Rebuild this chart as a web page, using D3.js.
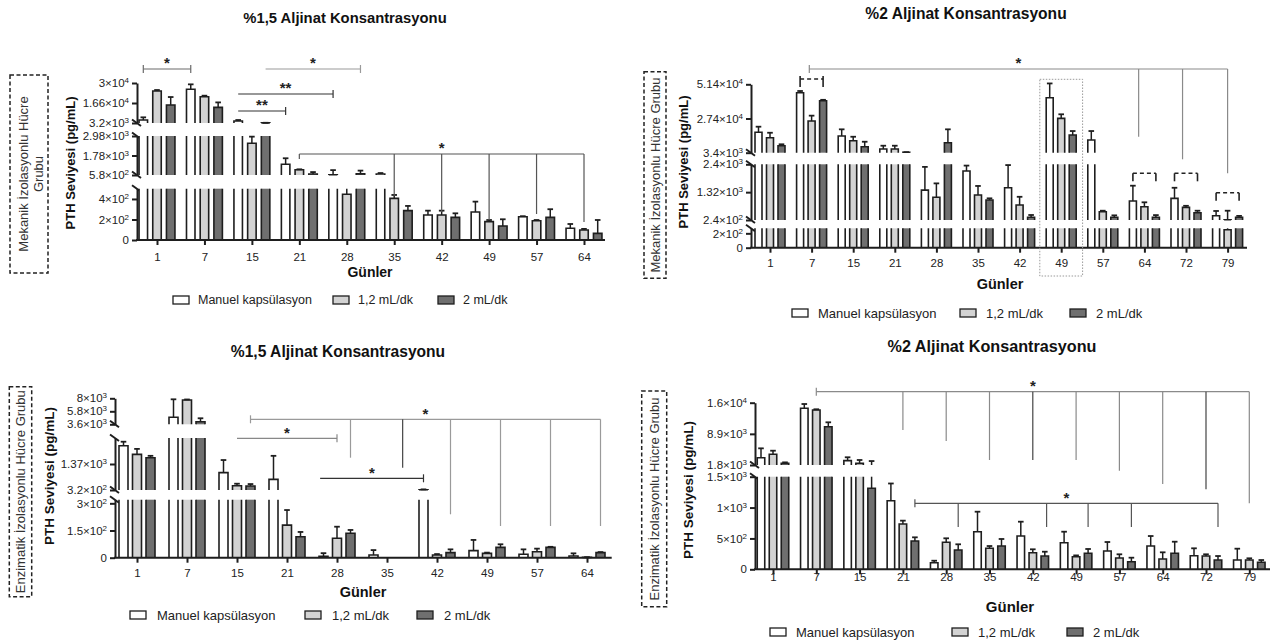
<!DOCTYPE html>
<html>
<head>
<meta charset="utf-8">
<script src="https://cdn.jsdelivr.net/npm/d3@7"></script>
<style>
  body { margin: 0; background: #fff; }
</style>
</head>
<body>
<svg id="chart" width="1278" height="642"></svg>
<script>
// günler
const days1 = [1, 7, 15, 21, 28, 35, 42, 49, 57, 64];
const days2 = [1, 7, 15, 21, 28, 35, 42, 49, 57, 64, 72, 79];
const seriesNames = ['Manuel kapsülasyon', '1,2 mL/dk', '2 mL/dk'];

// Mekanik, %1,5
const mek15Manuel = [5200, 25800, 4540, 1240, 600, 640, 244, 273, 227, 114];
const mek15ManuelErr = [7000, 29100, 5200, 1610, 880, 700, 286, 374, 232, 156];
const mek15Hiz12 = [24600, 20800, 2530, 900, 446, 406, 244, 179, 188, 98];
const mek15Hiz12Err = [25300, 21500, 2940, 930, 504, 439, 286, 195, 195, 108];
const mek15Hiz2 = [15300, 13700, 3300, 640, 650, 286, 221, 137, 221, 65];
const mek15Hiz2Err = [20600, 17000, 3350, 760, 850, 332, 260, 202, 300, 195];

// Mekanik, %2
const mek2Manuel = [17700, 45500, 15100, 6000, 1400, 2140, 1490, 42000, 12300, 977, 1080, 407];
const mek2ManuelErr = [21650, 46700, 19800, 8300, 2300, 2350, 2370, 52000, 18600, 1570, 1490, 590];
const mek2Hiz12 = [13900, 25650, 11800, 6000, 1120, 1210, 820, 27500, 562, 756, 730, 250];
const mek2Hiz12Err = [17400, 29400, 14600, 8300, 1660, 1560, 1140, 30350, 600, 926, 790, 600];
const mek2Hiz2 = [8300, 39900, 7600, 3700, 10400, 1015, 345, 15800, 345, 345, 524, 345];
const mek2Hiz2Err = [9300, 40500, 11100, 3800, 19800, 1080, 434, 18600, 420, 430, 600, 400];

// Enzimatik, %1,5
const enz15Manuel = [2110, 4790, 1020, 750, 8, 15, 330, 39, 19, 9];
const enz15ManuelErr = [2270, 7830, 1530, 1700, 25, 42, 345, 98, 46, 24];
const enz15Hiz12 = [1760, 7710, 493, 180, 107, 0, 15, 24, 33, 2];
const enz15Hiz12Err = [1980, 7800, 574, 263, 171, 0, 20, 28, 50, 3];
const enz15Hiz2 = [1620, 4040, 480, 116, 135, 0, 28, 57, 57, 28];
const enz15Hiz2Err = [1700, 4620, 560, 142, 153, 0, 46, 74, 60, 31];

// Enzimatik, %2
const enz2Manuel = [3460, 14720, 2800, 1110, 107, 609, 539, 431, 296, 377, 220, 150];
const enz2ManuelErr = [5600, 15700, 3560, 1390, 139, 933, 771, 609, 442, 539, 340, 334];
const enz2Hiz12 = [4235, 14340, 2180, 734, 437, 340, 269, 204, 183, 167, 215, 150];
const enz2Hiz12Err = [5060, 14500, 2940, 788, 502, 377, 324, 225, 243, 275, 243, 178];
const enz2Hiz2 = [2180, 10530, 1312, 458, 313, 377, 215, 259, 123, 259, 150, 113];
const enz2Hiz2Err = [2400, 11530, 2700, 518, 405, 491, 285, 329, 188, 447, 215, 150];

// y ekseni tik değerleri (kırık eksen parçaları, alttan üste)
const mek15Ticks = [[0, 200, 400], [580, 1780, 2980], [3200, 16600, 30000]];
const mek2Ticks = [[0, 200], [240, 1320, 2400], [3400, 27400, 51400]];
const enz15Ticks = [[0, 150, 300], [320, 1370], [3600, 5800, 8000]];
const enz2Ticks = [[0, 500, 1000, 1500], [1800, 8900, 16000]];

const FONT = '"Liberation Sans", Arial, sans-serif';
const colors = ['#ffffff', '#d3d3d3', '#6f6f6f'];
const ink = '#1e1e1e';

const panels = [
  {
    title: '%1,5 Aljinat Konsantrasyonu', titlePos: [345, 23], titleFs: 14.8,
    days: days1,
    series: [[mek15Manuel, mek15ManuelErr], [mek15Hiz12, mek15Hiz12Err], [mek15Hiz2, mek15Hiz2Err]],
    axisX: 137, axisEnd: 605, xRange: [157, 584], barW: 8.5, barGap: 13.7,
    segs: [
      { dom: [0, 500], rng: [240, 188.7], ticks: mek15Ticks[0] },
      { dom: [580, 2980], rng: [175, 136], ticks: mek15Ticks[1] },
      { dom: [3200, 30000], rng: [123, 83], ticks: mek15Ticks[2] }
    ],
    labelY: 257, xTitle: [370, 277], xTitleFs: 14, yTitleFs: 13,
    legend: { y: 300, xs: [173, 333, 438], off: 25, fs: 12.5 },
    box: { x: 10, y: 75, w: 38, h: 198, lines: ['Mekanik İzolasyonlu Hücre', 'Grubu'], lx: [23.3, 38.3], cy: 174 },
    yTitle: [70, 163],
    brackets: [
      { from: [1, -1], to: [7, -1], y: 69, color: '#6a6a6a', tl: [4, 4], tr: [4, 4], star: '*' },
      { from: [15, 1], to: [28, 1], y: 69, color: '#9a9a9a', tr: [4, 4], star: '*' },
      { from: [15, -1], to: [28, -1], y: 94, color: '#333', tr: [4, 4], star: '**' },
      { from: [15, -1], to: [21, -1], y: 111, color: '#333', tr: [4, 4], star: '**' },
      { from: [21, 0], to: [64, 0], y: 154, color: '#555', tl: [0, 5], star: '*',
        drops: [[35, 0, 196], [42, 0, 212], [49, 0, 220], [57, 0, 214], [64, 0, 222]] }
    ]
  },
  {
    title: '%2 Aljinat Konsantrasyonu', titlePos: [966, 19], titleFs: 15.6,
    days: days2,
    series: [[mek2Manuel, mek2ManuelErr], [mek2Hiz12, mek2Hiz12Err], [mek2Hiz2, mek2Hiz2Err]],
    axisX: 751, axisEnd: 1247, xRange: [770, 1227.6], barW: 7, barGap: 11.5,
    segs: [
      { dom: [0, 270], rng: [247.7, 228.3], ticks: mek2Ticks[0] },
      { dom: [240, 2400], rng: [220, 164.3], ticks: mek2Ticks[1] },
      { dom: [3400, 51400], rng: [152.7, 84.3], ticks: mek2Ticks[2] }
    ],
    labelY: 263.3, xTitle: [1000, 289], xTitleFs: 14.5, yTitleFs: 13,
    legend: { y: 313, xs: [792, 960, 1070], off: 26, fs: 13 },
    box: { x: 644, y: 71.7, w: 22, h: 206.6, lines: ['Mekanik İzolasyonlu Hücre Grubu'], lx: [655], cy: 175 },
    yTitle: [683, 162],
    focus: { day: 49, half: 21.4, y1: 79.3, y2: 276 },
    brackets: [
      { from: [7, -0.2], to: [79, 0], y: 69, color: '#8a8a8a', tl: [4, 4], star: '*',
        drops: [[64, -0.5, 136.7], [72, -0.3, 159.3], [79, 0, 173.3]] },
      { from: [7, -1], to: [7, 1], y: 79, color: '#222', dashed: true, tl: [3, 8], tr: [3, 8] },
      { from: [64, -1], to: [64, 1], y: 173.3, color: '#222', dashed: true, tl: [0, 8], tr: [0, 8] },
      { from: [72, -1], to: [72, 1], y: 173.3, color: '#222', dashed: true, tl: [0, 8], tr: [0, 8] },
      { from: [79, -1], to: [79, 1], y: 192.7, color: '#222', dashed: true, tl: [0, 8], tr: [0, 8] }
    ]
  },
  {
    title: '%1,5 Aljinat Konsantrasyonu', titlePos: [338, 357], titleFs: 15.6,
    days: days1,
    series: [[enz15Manuel, enz15ManuelErr], [enz15Hiz12, enz15Hiz12Err], [enz15Hiz2, enz15Hiz2Err]],
    axisX: 115, axisEnd: 611.7, xRange: [137, 587], barW: 9, barGap: 13.5,
    segs: [
      { dom: [0, 320], rng: [557.7, 499.7], ticks: enz15Ticks[0] },
      { dom: [320, 2420], rng: [490, 438], ticks: enz15Ticks[1] },
      { dom: [3600, 8000], rng: [424.3, 398.3], ticks: enz15Ticks[2] }
    ],
    labelY: 572.7, xTitle: [363, 597], xTitleFs: 14.5, yTitleFs: 13.5,
    legend: { y: 615, xs: [130, 305, 417], off: 27, fs: 13 },
    box: { x: 9.3, y: 386.7, w: 22.4, h: 210, lines: ['Enzimatik İzolasyonlu Hücre Grubu'], lx: [20.5], cy: 491.7 },
    yTitle: [49, 476],
    brackets: [
      { from: [15, 1], to: [64, 1], y: 419.3, color: '#9a9a9a', tl: [4, 4], star: '*',
        drops: [[28, 1, 457.7], [35, 1.16, 467.7, '#444'], [42, 1, 514.3], [49, 1, 526], [57, 1, 526], [64, 1, 526]] },
      { from: [15, 0], to: [28, 0], y: 438.3, color: '#888', tr: [4, 4], star: '*' },
      { from: [28, -1.25], to: [42, -1], y: 478.3, color: '#333', tr: [4, 4], star: '*' }
    ]
  },
  {
    title: '%2 Aljinat Konsantrasyonu', titlePos: [992, 352], titleFs: 16.2,
    days: days2,
    series: [[enz2Manuel, enz2ManuelErr], [enz2Hiz12, enz2Hiz12Err], [enz2Hiz2, enz2Hiz2Err]],
    axisX: 755, axisEnd: 1270, xRange: [773, 1249.3], barW: 7.5, barGap: 12,
    segs: [
      { dom: [0, 1500], rng: [569.3, 476.7], ticks: enz2Ticks[0] },
      { dom: [1800, 16000], rng: [465, 402.7], ticks: enz2Ticks[1] }
    ],
    labelY: 577, xTitle: [1010, 612], xTitleFs: 15, yTitleFs: 13.5,
    legend: { y: 632, xs: [770, 952, 1067], off: 26, fs: 13 },
    box: { x: 641.7, y: 391, w: 25, h: 215.7, lines: ['Enzimatik İzolasyonlu Hücre Grubu'], lx: [654], cy: 499 },
    yTitle: [688, 490],
    brackets: [
      { from: [7, 0], to: [79, 0], y: 391.7, color: '#8a8a8a', tl: [4, 4], star: '*',
        drops: [[21, 0, 430], [28, 0, 441], [35, 0, 460], [42, 0, 460, '#444'], [49, 0, 460], [57, 0, 470.7],
                [64, 0, 484], [72, 0, 489.3, '#444'], [79, 0, 503.3]] },
      { from: [21, 1], to: [72, 1], y: 503.3, color: '#555', tl: [4, 4], star: '*',
        drops: [[28, 1, 527], [42, 1.15, 527], [49, 1, 527], [57, 1, 527], [72, 1, 527]] }
    ]
  }
];

const svg = d3.select('#chart').attr('font-family', FONT);

// 3.2×10³ biçiminde tik etiketi
function sciLabel(sel, v) {
  sel.text(null);
  if (v === 0) { sel.text('0'); return; }
  const e = Math.floor(Math.log10(v) + 1e-9);
  const m = +(v / Math.pow(10, e)).toPrecision(3);
  sel.append('tspan').text(m + '×10');
  sel.append('tspan').attr('font-size', 8).attr('dy', '-0.5em').text(e);
}

function drawPanel(p) {
  const g = svg.append('g');
  const x = d3.scalePoint().domain(p.days).range(p.xRange);
  const pos = (d, o) => x(d) + o * p.barGap;
  const y0 = p.segs[0].rng[0];

  // başlık
  g.append('text').attr('x', p.titlePos[0]).attr('y', p.titlePos[1])
    .attr('text-anchor', 'middle').attr('font-weight', 'bold').attr('font-size', p.titleFs)
    .attr('fill', '#111').text(p.title);

  // kesikli kutu ve grup adı
  g.append('rect').attr('x', p.box.x).attr('y', p.box.y).attr('width', p.box.w).attr('height', p.box.h)
    .attr('fill', 'none').attr('stroke', '#222').attr('stroke-width', 1.5).attr('stroke-dasharray', '4,2.5');
  p.box.lines.forEach((t, i) => {
    g.append('text').attr('transform', `translate(${p.box.lx[i] + 4.5},${p.box.cy}) rotate(-90)`)
      .attr('text-anchor', 'middle').attr('font-size', 13).attr('fill', '#333').text(t);
  });

  // y ekseni başlığı
  g.append('text').attr('transform', `translate(${p.yTitle[0] + 4.5},${p.yTitle[1]}) rotate(-90)`)
    .attr('text-anchor', 'middle').attr('font-weight', 'bold').attr('font-size', p.yTitleFs)
    .attr('fill', '#111').text('PTH Seviyesi (pg/mL)');

  // kırık y ekseni
  p.segs.forEach((s, k) => {
    s.scale = d3.scaleLinear().domain(s.dom).range(s.rng);
    const ax = g.append('g').attr('transform', `translate(${p.axisX},0)`)
      .call(d3.axisLeft(s.scale).tickValues(s.ticks).tickSize(5).tickSizeOuter(0).tickPadding(3));
    ax.attr('font-family', FONT).attr('font-size', 11.5);
    ax.select('.domain').attr('stroke', ink).attr('stroke-width', 2);
    ax.selectAll('.tick line').attr('stroke', ink).attr('stroke-width', 2);
    ax.selectAll('.tick text').attr('fill', '#222').each(function (d) { sciLabel(d3.select(this), d); });
    const ends = [];
    if (k > 0) ends.push(s.rng[0]);
    if (k < p.segs.length - 1) ends.push(s.rng[1]);
    ends.forEach(yy => {
      g.append('line').attr('x1', p.axisX - 5).attr('y1', yy - 3.5).attr('x2', p.axisX + 4).attr('y2', yy + 3)
        .attr('stroke', ink).attr('stroke-width', 2);
    });
  });

  // çubuklar ve hata çubukları
  p.series.forEach(([vals, errs], si) => {
    p.days.forEach((d, i) => {
      const cx = pos(d, si - 1);
      const l = cx - p.barW / 2, r = cx + p.barW / 2;
      const v = vals[i], e = errs[i];
      p.segs.forEach((s, k) => {
        const isTop = k === p.segs.length - 1;
        const [lo, hi] = s.dom;
        if (v > lo) {
          const inside = isTop || v <= hi;
          const yt = inside ? s.scale(v) : s.rng[1];
          const yb = s.rng[0];
          g.append('rect').attr('x', l).attr('y', yt).attr('width', p.barW).attr('height', yb - yt)
            .attr('fill', colors[si]);
          g.append('path')
            .attr('d', `M${l},${yb}V${yt}` + (inside ? `H${r}` : `M${r},${yt}`) + `V${yb}`)
            .attr('fill', 'none').attr('stroke', ink).attr('stroke-width', 1.6);
        }
        if (e > v) {
          const a = Math.max(v, lo);
          const b = isTop ? e : Math.min(e, hi);
          if (b > a) {
            g.append('line').attr('x1', cx).attr('x2', cx).attr('y1', s.scale(a)).attr('y2', s.scale(b))
              .attr('stroke', ink).attr('stroke-width', 1.5);
            if (isTop || e <= hi) {
              g.append('line').attr('x1', cx - 2.8).attr('x2', cx + 2.8).attr('y1', s.scale(e)).attr('y2', s.scale(e))
                .attr('stroke', ink).attr('stroke-width', 1.8);
            }
          }
        }
      });
    });
  });

  // x ekseni
  g.append('line').attr('x1', p.axisX - 1).attr('x2', p.axisEnd).attr('y1', y0).attr('y2', y0)
    .attr('stroke', ink).attr('stroke-width', 2);
  const xa = g.append('g').attr('transform', `translate(0,${y0})`)
    .call(d3.axisBottom(x).tickSize(5).tickSizeOuter(0));
  xa.attr('font-family', FONT).attr('font-size', 11.5);
  xa.select('.domain').remove();
  xa.selectAll('.tick line').attr('stroke', ink).attr('stroke-width', 2);
  xa.selectAll('.tick text').attr('fill', '#222').attr('y', p.labelY - y0).attr('dy', '0.35em');

  g.append('text').attr('x', p.xTitle[0]).attr('y', p.xTitle[1]).attr('text-anchor', 'middle')
    .attr('font-weight', 'bold').attr('font-size', p.xTitleFs).attr('fill', '#111').text('Günler');

  // 49. gün noktalı çerçeve
  if (p.focus) {
    const fx = x(p.focus.day);
    g.append('rect').attr('x', fx - p.focus.half).attr('y', p.focus.y1)
      .attr('width', 2 * p.focus.half).attr('height', p.focus.y2 - p.focus.y1)
      .attr('fill', 'none').attr('stroke', '#9a9a9a').attr('stroke-width', 1).attr('stroke-dasharray', '1.5,1.5');
  }

  // anlamlılık çizgileri
  p.brackets.forEach(b => {
    const x1 = pos(b.from[0], b.from[1]), x2 = pos(b.to[0], b.to[1]);
    const sw = b.dashed ? 1.6 : 1.2;
    g.append('line').attr('x1', x1).attr('x2', x2).attr('y1', b.y).attr('y2', b.y)
      .attr('stroke', b.color).attr('stroke-width', sw)
      .attr('stroke-dasharray', b.dashed ? '4,3' : null);
    [[x1, b.tl], [x2, b.tr]].forEach(([xx, t]) => {
      if (!t) return;
      g.append('line').attr('x1', xx).attr('x2', xx).attr('y1', b.y - t[0]).attr('y2', b.y + t[1])
        .attr('stroke', b.color).attr('stroke-width', sw);
    });
    (b.drops || []).forEach(([d, o, yy, c]) => {
      g.append('line').attr('x1', pos(d, o)).attr('x2', pos(d, o)).attr('y1', b.y).attr('y2', yy)
        .attr('stroke', c || b.color).attr('stroke-width', 1.2);
    });
    if (b.star) {
      g.append('text').attr('x', (x1 + x2) / 2).attr('y', b.y - 9.5 + 8.7)
        .attr('text-anchor', 'middle').attr('font-weight', 'bold').attr('font-size', 15)
        .attr('fill', '#222').text(b.star);
    }
  });

  // lejant
  seriesNames.forEach((name, si) => {
    const lx = p.legend.xs[si];
    g.append('rect').attr('x', lx).attr('y', p.legend.y - 4).attr('width', 16).attr('height', 8)
      .attr('fill', colors[si]).attr('stroke', ink).attr('stroke-width', 1.3);
    g.append('text').attr('x', lx + p.legend.off).attr('y', p.legend.y).attr('dy', '0.35em')
      .attr('font-size', p.legend.fs).attr('fill', '#222').text(name);
  });
}

panels.forEach(drawPanel);
</script>
</body>
</html>
